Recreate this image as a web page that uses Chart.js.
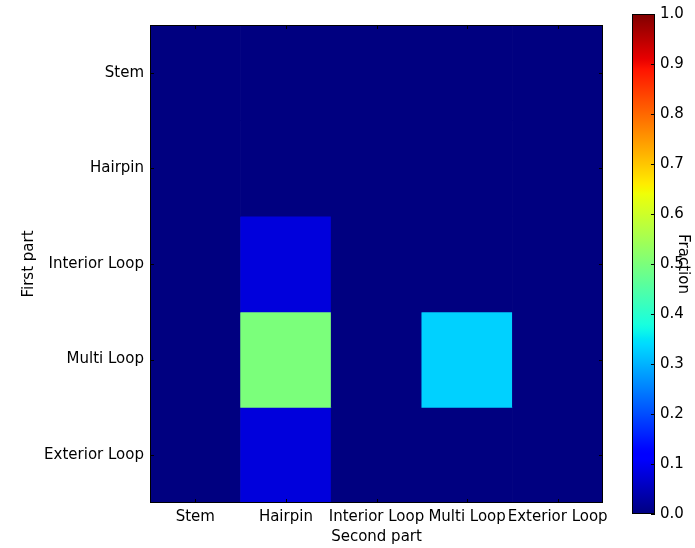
<!DOCTYPE html>
<html>
<head>
<meta charset="utf-8">
<title>Fraction heatmap</title>
<script src="https://cdn.jsdelivr.net/npm/chart.js@4.4.1/dist/chart.umd.min.js"></script>
<style>
    html, body { margin: 0; padding: 0; background: #fff; }
    #wrap { position: relative; width: 695px; height: 548px; }
    #wrap canvas { position: absolute; top: 0; }
    #heat { left: 0; }
    #cbar { left: 600px; }
</style>
</head>
<body>
<div id="wrap">
    <canvas id="heat" width="695" height="548"></canvas>
    <canvas id="cbar" width="95" height="548"></canvas>
</div>
<script>
// Data
const secondParts = ['Stem', 'Hairpin', 'Interior Loop', 'Multi Loop', 'Exterior Loop'];
const firstParts = ['Stem', 'Hairpin', 'Interior Loop', 'Multi Loop', 'Exterior Loop'];
// rows = first part, columns = second part
const fractions = [
    [0, 0,    0, 0,    0],
    [0, 0,    0, 0,    0],
    [0, 0.08, 0, 0,    0],
    [0, 0.5,  0, 0.33, 0],
    [0, 0.08, 0, 0,    0]
];
const colorbarTicks = [0, 0.1, 0.2, 0.3, 0.4, 0.5, 0.6, 0.7, 0.8, 0.9, 1.0];

const FONT = { family: "'DejaVu Sans', sans-serif", size: 15 };
Chart.defaults.color = '#000';

// matplotlib "jet" colormap
const JET = {
    r: [[0, 0], [0.35, 0], [0.66, 1], [0.89, 1], [1, 0.5]],
    g: [[0, 0], [0.125, 0], [0.375, 1], [0.64, 1], [0.91, 0], [1, 0]],
    b: [[0, 0.5], [0.11, 1], [0.34, 1], [0.65, 0], [1, 0]]
};
function interp(pts, v) {
    for (let i = 1; i < pts.length; i++) {
        if (v <= pts[i][0]) {
            const [x0, y0] = pts[i - 1], [x1, y1] = pts[i];
            return y0 + (y1 - y0) * (v - x0) / (x1 - x0);
        }
    }
    return pts[pts.length - 1][1];
}
function jet(v) {
    const c = k => Math.round(interp(JET[k], v) * 255);
    return `rgb(${c('r')},${c('g')},${c('b')})`;
}

// Frame + inward tick marks, like the matplotlib axes
const frameTicks = {
    id: 'frameTicks',
    afterDraw(chart, args, opts) {
        const { ctx, chartArea: a, scales } = chart;
        ctx.save();
        ctx.strokeStyle = '#000';
        ctx.lineWidth = 1;
        ctx.strokeRect(a.left + 0.5, a.top + 0.5, a.right - a.left - 1, a.bottom - a.top - 1);
        const len = 4;
        ctx.beginPath();
        if (opts.x && scales.x) {
            scales.x.ticks.forEach((t, i) => {
                const px = Math.round(scales.x.getPixelForTick(i)) + 0.5;
                ctx.moveTo(px, a.bottom); ctx.lineTo(px, a.bottom - len);
                ctx.moveTo(px, a.top); ctx.lineTo(px, a.top + len);
            });
        }
        if (scales.y) {
            scales.y.ticks.forEach(t => {
                const py = Math.round(scales.y.getPixelForValue(t.value)) + 0.5;
                if (opts.left) { ctx.moveTo(a.left, py); ctx.lineTo(a.left + len, py); }
                ctx.moveTo(a.right, py); ctx.lineTo(a.right - len, py);
            });
        }
        ctx.stroke();
        ctx.restore();
    }
};

// Heatmap
new Chart(document.getElementById('heat'), {
    type: 'bar',
    data: {
        labels: secondParts,
        datasets: firstParts.map((name, r) => ({
            label: name,
            data: secondParts.map(() => [r - 0.5, r + 0.5]),
            backgroundColor: fractions[r].map(jet),
            borderWidth: 0,
            barPercentage: 1,
            categoryPercentage: 1,
            grouped: false
        }))
    },
    options: {
        responsive: false,
        animation: false,
        layout: { padding: { top: 25, right: 92, left: 0, bottom: 0 } },
        plugins: {
            legend: { display: false },
            tooltip: { enabled: false },
            frameTicks: { x: true, left: true }
        },
        scales: {
            x: {
                grid: { display: false, drawTicks: false },
                border: { display: false },
                ticks: { font: FONT, padding: 5, autoSkip: false, maxRotation: 0, minRotation: 0 },
                title: { display: true, text: 'Second part', font: FONT, padding: { top: 0, bottom: 2 } },
                afterFit: s => { s.height = 45; }
            },
            y: {
                type: 'linear',
                reverse: true,
                min: -0.5,
                max: 4.5,
                grid: { display: false, drawTicks: false },
                border: { display: false },
                afterBuildTicks: s => { s.ticks = firstParts.map((_, i) => ({ value: i })); },
                ticks: { font: FONT, padding: 6, callback: v => firstParts[v] },
                title: { display: true, text: 'First part', font: FONT, padding: { top: 20, bottom: 0 } },
                afterFit: s => { s.width = 150; }
            }
        }
    },
    plugins: [frameTicks]
});

// Colorbar
new Chart(document.getElementById('cbar'), {
    type: 'bar',
    data: {
        labels: ['Fraction'],
        datasets: [{
            data: [[colorbarTicks[0], colorbarTicks[colorbarTicks.length - 1]]],
            backgroundColor: c => {
                const chart = c.chart, y = chart.scales.y;
                if (!chart.chartArea || !y) return jet(0.5);
                const g = chart.ctx.createLinearGradient(0, y.getPixelForValue(0), 0, y.getPixelForValue(1));
                for (let i = 0; i <= 100; i++) g.addColorStop(i / 100, jet(i / 100));
                return g;
            },
            borderColor: '#000',
            borderWidth: 1,
            borderSkipped: false,
            barPercentage: 1,
            categoryPercentage: 1
        }]
    },
    options: {
        responsive: false,
        animation: false,
        layout: { padding: { top: 14, bottom: 34, left: 32, right: 0 } },
        plugins: {
            legend: { display: false },
            tooltip: { enabled: false },
            frameTicks: { x: false, left: false }
        },
        scales: {
            x: { display: false },
            y: {
                position: 'right',
                min: 0,
                max: 1,
                grid: { display: false, drawTicks: false },
                border: { display: false },
                afterBuildTicks: s => { s.ticks = colorbarTicks.map(v => ({ value: v })); },
                ticks: { font: FONT, padding: 5, callback: v => v.toFixed(1) },
                title: { display: true, text: 'Fraction', font: FONT, padding: { top: 3, bottom: 0 } },
                afterFit: s => { s.width = 40; }
            }
        }
    },
    plugins: [frameTicks]
});
</script>
</body>
</html>
